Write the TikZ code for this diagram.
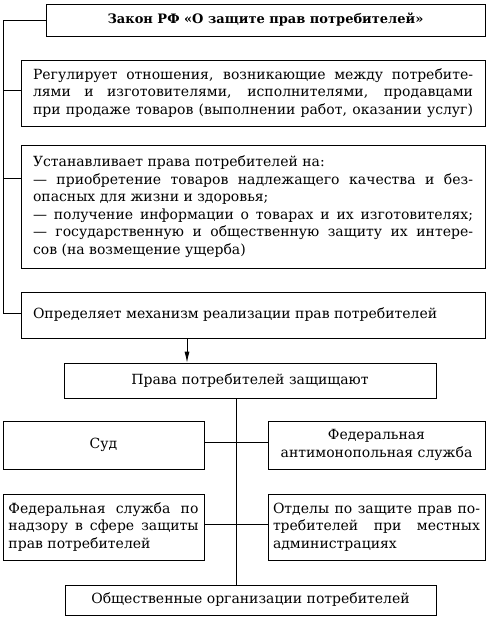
\documentclass[tikz,border=0pt]{standalone}
\usepackage{fontspec}
\setmainfont{DejaVu Serif}
\usetikzlibrary{arrows.meta}
\newcommand{\jline}[2]{\hbox to #1pt{#2}}
\newcommand{\lline}[2]{\hbox to #1pt{#2\hfil}}
\tikzset{
  box/.style={draw, line width=0.8pt, rectangle, inner sep=0pt, anchor=center},
  txt/.style={font=\fontsize{14}{17.5}\selectfont},
  conn/.style={line width=0.8pt},
}
\begin{document}
\begin{tikzpicture}[x=1pt,y=-1pt]
\useasboundingbox[fill=white] (0,0) rectangle (489,618);
% boxes
\node[box, minimum width=439, minimum height=32, font=\fontsize{13}{16}\selectfont\bfseries] (b1) at (265.5,20) {Закон РФ «О защите прав потребителей»};
\node[box, minimum width=464, minimum height=66] (b2) at (253,93) {};
\node[txt, inner sep=0pt, align=left] at (b2.center) {%
\jline{440}{Регулирует отношения, возникающие между потребите-}\\
\jline{440}{лями и изготовителями, исполнителями, продавцами}\\
\jline{440}{при продаже товаров (выполнении работ, оказании услуг)}};
\node[box, minimum width=464, minimum height=123] (b3) at (253,206.5) {};
\node[txt, inner sep=0pt, align=left] at (b3.center) {%
\lline{440}{Устанавливает права потребителей на:}\\
\jline{440}{— приобретение товаров надлежащего качества и без-}\\
\lline{440}{опасных для жизни и здоровья;}\\
\jline{440}{— получение информации о товарах и их изготовителях;}\\
\jline{440}{— государственную и общественную защиту их интере-}\\
\lline{440}{сов (на возмещение ущерба)}};
\node[box, minimum width=464, minimum height=46] (b4) at (253,315) {};
\node[txt, inner sep=0pt, align=left] at (b4.center) {%
\lline{440}{Определяет механизм реализации прав потребителей}};
\node[box, minimum width=372, minimum height=35, txt] (b5) at (250,380.5) {Права потребителей защищают};
\node[box, minimum width=201, minimum height=48, txt] (b6) at (103.5,445) {Суд};
\node[box, minimum width=217, minimum height=48, txt, align=center] (b7) at (376.5,445) {Федеральная\\антимонопольная служба};
\node[box, minimum width=201, minimum height=66] (b8) at (103.5,527) {};
\node[txt, inner sep=0pt, align=left] at (b8.center) {%
\jline{190}{Федеральная служба по}\\
\jline{190}{надзору в сфере защиты}\\
\lline{190}{прав потребителей}};
\node[box, minimum width=217, minimum height=66] (b9) at (376.5,527) {};
\node[txt, inner sep=0pt, align=left] at (b9.center) {%
\jline{207}{Отделы по защите прав по-}\\
\jline{207}{требителей при местных}\\
\lline{207}{администрациях}};
\node[box, minimum width=371, minimum height=30, txt] (b10) at (250.5,600) {Общественные организации потребителей};
% trunk
\coordinate (t1) at (3,20);
\coordinate (t2) at (3,90);
\coordinate (t3) at (3,178);
\coordinate (t4) at (3,313);
\draw[conn] (b1.west |- t1) -- (t1) -- (t4) -- (b4.west |- t4);
\draw[conn] (t2) -- (b2.west |- t2);
\draw[conn] (t3) -- (b3.west |- t3);
% arrow
\coordinate (ax) at (187,0);
\draw[conn, -{Latex[length=11pt,width=5pt]}] (b4.south -| ax) -- (b5.north -| ax);
% vertical spine
\coordinate (vx) at (236,0);
\draw[conn] (b5.south -| vx) -- (b10.north -| vx);
\coordinate (h1) at (0,442);
\coordinate (h2) at (0,524);
\draw[conn] (b6.east |- h1) -- (b7.west |- h1);
\draw[conn] (b8.east |- h2) -- (b9.west |- h2);
\end{tikzpicture}
\end{document}
